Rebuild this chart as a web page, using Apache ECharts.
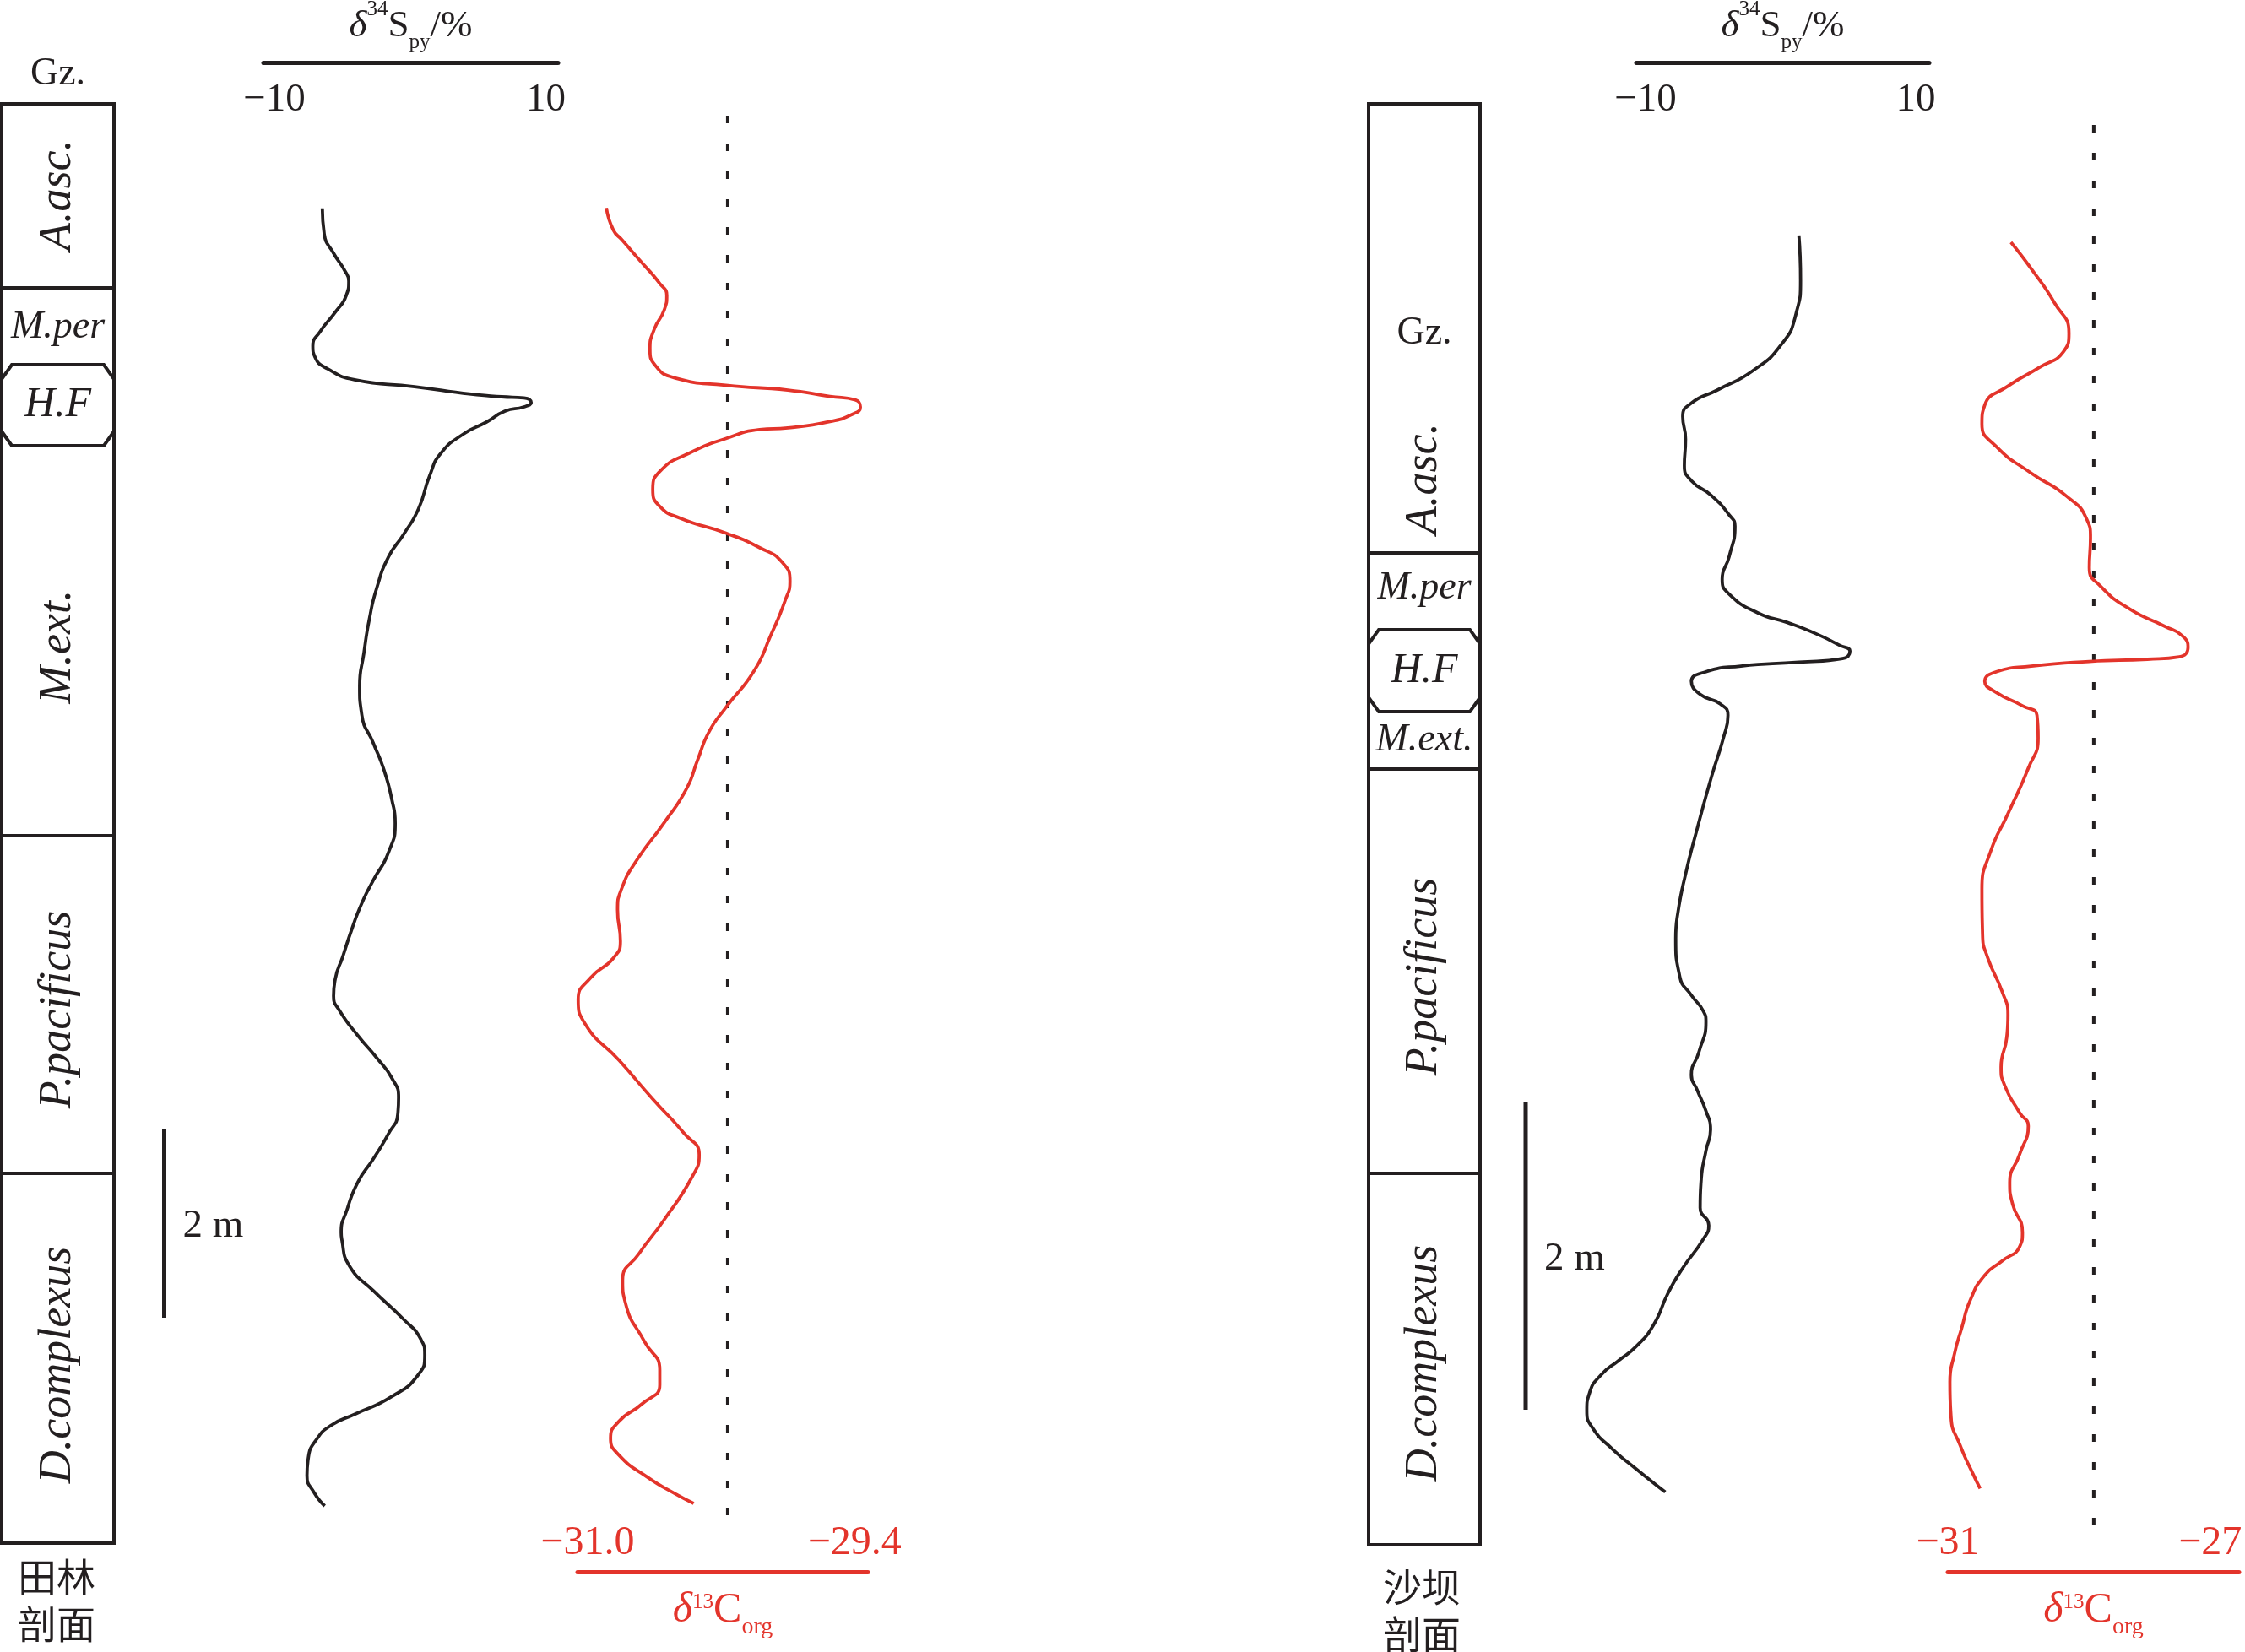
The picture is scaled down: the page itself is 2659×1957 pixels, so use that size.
<!DOCTYPE html>
<html><head><meta charset="utf-8">
<script src="https://cdn.jsdelivr.net/npm/echarts@6/dist/echarts.min.js"></script>
<style>html,body{margin:0;padding:0;background:#fff}#c{width:2659px;height:1957px}</style>
</head><body><div id="c"></div>
<script>
// ================= DATA =================
// heights in metres above the base of each section; isotope values in per mil
// ---- Tianlin section (田林剖面) ----
const tlS34 = [[-6.47,14.119],[-6.33,13.848],[-5.64,13.643],[-4.84,13.464],[-4.52,13.348],[-4.71,13.196],[-5.52,13.018],[-6.64,12.813],[-7.17,12.661],[-7.01,12.545],[-6.08,12.420],[-4.09,12.304],[0.33,12.232],[4.50,12.152],[6.74,12.125],[8.39,12.112],[8.92,12.063],[8.39,12.018],[6.99,11.973],[5.62,11.857],[3.94,11.732],[2.26,11.527],[1.45,11.295],[0.61,10.938],[-0.48,10.670],[-1.60,10.429],[-2.47,10.098],[-3.00,9.777],[-3.40,9.420],[-3.72,9.063],[-3.56,8.759],[-2.72,8.464],[-1.91,8.170],[-1.35,7.866],[-1.10,7.616],[-1.60,7.304],[-2.72,7.009],[-3.56,6.768],[-4.28,6.500],[-4.96,6.205],[-5.52,5.964],[-5.64,5.786],[-5.21,5.634],[-3.84,5.366],[-2.47,5.134],[-1.35,4.920],[-0.85,4.714],[-0.91,4.536],[-1.60,4.330],[-2.72,4.063],[-3.84,3.821],[-4.65,3.527],[-5.08,3.286],[-5.02,3.200],[-4.46,2.929],[-2.72,2.670],[-0.54,2.375],[0.77,2.161],[1.08,1.991],[0.58,1.777],[-1.41,1.545],[-4.03,1.366],[-5.77,1.250],[-6.89,1.098],[-7.51,0.893],[-7.60,0.714],[-7.08,0.536],[-6.29,0.393]];
const tlC13 = [[-30.887,14.123],[-30.845,13.887],[-30.794,13.786],[-30.693,13.580],[-30.567,13.323],[-30.525,13.196],[-30.541,13.041],[-30.601,12.836],[-30.626,12.634],[-30.592,12.452],[-30.474,12.323],[-30.171,12.246],[-29.800,12.196],[-29.548,12.129],[-29.396,12.093],[-29.365,12.016],[-29.413,11.939],[-29.548,11.863],[-29.800,11.795],[-29.969,11.777],[-30.171,11.683],[-30.390,11.529],[-30.559,11.350],[-30.609,11.145],[-30.567,10.965],[-30.440,10.838],[-30.171,10.683],[-29.969,10.529],[-29.834,10.375],[-29.787,10.170],[-29.817,9.966],[-29.901,9.607],[-30.003,9.223],[-30.171,8.839],[-30.272,8.582],[-30.340,8.286],[-30.407,7.979],[-30.541,7.620],[-30.710,7.209],[-30.794,6.929],[-30.820,6.696],[-30.803,6.366],[-30.845,6.188],[-30.980,5.982],[-31.056,5.750],[-31.014,5.491],[-30.811,5.107],[-30.609,4.696],[-30.424,4.339],[-30.331,4.107],[-30.373,3.875],[-30.541,3.420],[-30.693,3.058],[-30.790,2.780],[-30.770,2.520],[-30.660,2.134],[-30.567,1.830],[-30.567,1.674],[-30.676,1.469],[-30.811,1.289],[-30.862,1.110],[-30.811,0.930],[-30.643,0.700],[-30.474,0.521],[-30.364,0.420]];
const tlRefC13 = [[-30.16,15.098],[-30.16,0.295]];
const tlZoneBounds = [15.223, 13.277, 12.464, 11.607, 7.482, 3.911, 0];
const tlHFZone = [12.464, 11.607];
const tlLabelText = ['Gz.', 'A.asc.', 'M.per', 'H.F', 'M.ext.', 'P.pacificus', 'D.complexus'];
const tlLabelH = [15.54, 14.259, 12.857, 12.036, 9.482, 5.643, 1.884];
const tlScaleBar = [2.384, 4.384];
const tlSTicks = [-10, 10];
const tlCTicks = [-31.0, -29.4];

// ---- Shaba section (沙坝剖面) ----
const sbS34 = [[1.35,8.499],[1.475,8.209],[1.13,7.988],[0.06,7.792],[-2.09,7.619],[-4.68,7.496],[-6.61,7.411],[-7.25,7.324],[-7.04,7.177],[-7.13,7.005],[-6.61,6.907],[-5.10,6.809],[-3.81,6.685],[-3.38,6.612],[-3.81,6.415],[-4.33,6.269],[-3.81,6.171],[-1.66,6.048],[0.49,5.987],[2.64,5.913],[4.36,5.839],[5.13,5.802],[4.58,5.753],[1.35,5.729],[-2.95,5.704],[-5.53,5.667],[-6.61,5.605],[-5.96,5.520],[-4.46,5.458],[-3.90,5.385],[-4.24,5.237],[-5.10,4.992],[-6.18,4.648],[-7.04,4.353],[-7.60,4.107],[-7.77,3.935],[-7.47,3.689],[-6.61,3.567],[-5.75,3.468],[-5.53,3.395],[-6.05,3.198],[-6.61,3.050],[-6.18,2.952],[-5.53,2.816],[-5.19,2.696],[-5.53,2.558],[-5.88,2.373],[-5.96,2.188],[-5.32,2.073],[-5.75,1.981],[-7.25,1.796],[-8.33,1.635],[-9.41,1.427],[-10.69,1.288],[-11.99,1.196],[-13.28,1.104],[-14.14,0.988],[-14.35,0.873],[-13.92,0.758],[-12.42,0.619],[-10.69,0.492],[-8.54,0.342]];
const sbC13 = [[-30.038,8.455],[-29.728,8.283],[-29.374,8.062],[-29.153,7.865],[-29.242,7.742],[-29.596,7.644],[-30.083,7.521],[-30.437,7.398],[-30.480,7.276],[-30.259,7.128],[-29.728,6.956],[-29.197,6.809],[-28.887,6.661],[-28.825,6.538],[-28.843,6.342],[-28.666,6.220],[-28.223,6.073],[-27.692,5.962],[-27.427,5.901],[-27.338,5.827],[-27.471,5.764],[-27.958,5.748],[-28.843,5.734],[-29.728,5.704],[-30.259,5.667],[-30.437,5.605],[-30.259,5.532],[-29.862,5.446],[-29.641,5.385],[-29.623,5.237],[-29.773,5.041],[-30.083,4.746],[-30.348,4.500],[-30.480,4.254],[-30.470,3.959],[-30.393,3.812],[-30.172,3.591],[-30.083,3.443],[-30.101,3.296],[-30.188,3.100],[-30.127,2.976],[-29.905,2.804],[-29.773,2.718],[-29.905,2.535],[-30.056,2.350],[-30.012,2.211],[-29.862,2.027],[-29.905,1.935],[-30.172,1.842],[-30.437,1.750],[-30.658,1.588],[-30.790,1.404],[-30.897,1.242],[-30.968,1.058],[-30.950,0.827],[-30.808,0.642],[-30.614,0.458],[-30.507,0.365]];
const sbRefC13 = [[-28.775,9.216],[-28.775,0.099]];
const sbZoneBounds = [9.353, 6.438, 5.940, 5.408, 5.036, 2.411, 0];
const sbHFZone = [5.940, 5.408];
const sbLabelText = ['Gz.', 'A.asc.', 'M.per', 'H.F', 'M.ext.', 'P.pacificus', 'D.complexus'];
const sbLabelH = [7.863, 6.921, 6.208, 5.671, 5.222, 3.688, 1.178];
const sbScaleBar = [0.877, 2.877];
const sbSTicks = [-10, 10];
const sbCTicks = [-31, -27];

const sectionNames = ['田林\n剖面', '沙坝\n剖面'];
const scaleLabel = '2 m';

// ================= LAYOUT / STYLE =================
const INK = '#231f20', RED = '#e3342b', SERIF = 'Liberation Serif';
const tlLabelKind = ['plain', 'v', 'h', 'hf', 'v', 'v', 'v'];
const sbLabelKind = ['plain', 'v', 'h', 'hf', 'h', 'v', 'v'];
const kindStyle = {
  plain: {size: 46, italic: false, rot: 0},
  v: {size: 54, italic: true, rot: Math.PI / 2},
  h: {size: 46, italic: true, rot: 0},
  hf: {size: 50, italic: true, rot: 0}
};
const TOP = 74, HEIGHT = 1788;
const yRangeTL = [(1828 - 1862) / 112, (1828 - 74) / 112];
const yRangeSB = [(1830 - 1862) / 182.5, (1830 - 74) / 182.5];

function minus(s) { return String(s).replace('-', '\u2212'); }

function columnRenderer(bounds, hf, texts, heights, kinds) {
  return function (params, api) {
    const x0 = api.coord([0, 0])[0], x1 = api.coord([1, 0])[0];
    const Y = h => api.coord([0, h])[1];
    const ch = [];
    const top = Y(bounds[0]), bot = Y(bounds[bounds.length - 1]);
    ch.push({type: 'rect', shape: {x: x0, y: top, width: x1 - x0, height: bot - top},
      style: {fill: '#fff', stroke: INK, lineWidth: 4}});
    for (let i = 1; i < bounds.length - 1; i++) {
      const b = bounds[i];
      if (b === hf[0] || b === hf[1]) continue;
      ch.push({type: 'line', shape: {x1: x0, y1: Y(b), x2: x1, y2: Y(b)}, style: {stroke: INK, lineWidth: 4}});
    }
    const ht = Y(hf[0]), hb = Y(hf[1]), cx = 12, cy = 17;
    ch.push({type: 'polygon', shape: {points: [[x0, ht + cy], [x0 + cx, ht], [x1 - cx, ht], [x1, ht + cy], [x1, hb - cy], [x1 - cx, hb], [x0 + cx, hb], [x0, hb - cy]]},
      style: {fill: 'none', stroke: INK, lineWidth: 4}});
    const xc = (x0 + x1) / 2;
    texts.forEach((t, i) => {
      const k = kindStyle[kinds[i]];
      ch.push({type: 'text', x: xc, y: Y(heights[i]), rotation: k.rot,
        style: {text: t, fontSize: k.size, fontFamily: SERIF, fontStyle: k.italic ? 'italic' : 'normal',
          fill: INK, align: 'center', verticalAlign: 'middle'}});
    });
    return {type: 'group', children: ch};
  };
}
function barRenderer(params, api) {
  const p0 = api.coord([0.5, api.value(0)]), p1 = api.coord([0.5, api.value(1)]);
  return {type: 'group', children: [
    {type: 'line', shape: {x1: p0[0], y1: p0[1], x2: p1[0], y2: p1[1]}, style: {stroke: INK, lineWidth: 5}},
    {type: 'text', x: p0[0] + 22, y: (p0[1] + p1[1]) / 2 + 4,
      style: {text: scaleLabel, fontSize: 47, fontFamily: SERIF, fill: INK, align: 'left', verticalAlign: 'middle'}}
  ]};
}

const sHeaderName = '{d|δ}{sup|34}{m|S}{sub|py}{m|/%}';
const sHeaderRich = {
  d: {fontFamily: SERIF, fontStyle: 'italic', fontSize: 45, lineHeight: 70, color: INK},
  sup: {fontFamily: SERIF, fontSize: 25, lineHeight: 26, height: 31, verticalAlign: 'top', color: INK},
  m: {fontFamily: SERIF, fontSize: 45, lineHeight: 70, color: INK},
  sub: {fontFamily: SERIF, fontSize: 25, lineHeight: 26, height: 31, verticalAlign: 'bottom', color: INK}
};
const cFooterName = '{d|δ}{sup|13}{m|C}{sub|org}';
const cFooterRich = {
  d: {fontFamily: SERIF, fontStyle: 'italic', fontSize: 50, lineHeight: 60, color: RED},
  sup: {fontFamily: SERIF, fontSize: 25, lineHeight: 26, height: 40, verticalAlign: 'top', color: RED},
  m: {fontFamily: SERIF, fontSize: 50, lineHeight: 60, color: RED},
  sub: {fontFamily: SERIF, fontSize: 28, lineHeight: 26, height: 20, verticalAlign: 'bottom', color: RED}
};

const grids = [
  {left: 2, width: 133},          // 0 TL column
  {left: 312, width: 349},        // 1 TL d34S
  {left: 684, width: 344},        // 2 TL d13C
  {left: 192, width: 5},          // 3 TL scale bar
  {left: 1621, width: 132},       // 4 SB column
  {left: 1938, width: 347},       // 5 SB d34S axis
  {left: 2307, width: 345},       // 6 SB d13C
  {left: 1804.5, width: 5},       // 7 SB scale bar
  {left: 1869.04, width: 415.96}  // 8 SB d34S data (same scale, wider so the curve is not cut)
].map(g => Object.assign({top: TOP, height: HEIGHT, containLabel: false, outerBoundsMode: 'none'}, g));

function hiddenX(i, min, max) { return {type: 'value', gridIndex: i, min: min == null ? 0 : min, max: max == null ? 1 : max, show: false}; }
function sAxis(i, min, max, ticks) {
  return {type: 'value', gridIndex: i, position: 'top', min, max,
    axisLine: {show: true, onZero: false, lineStyle: {color: INK, width: 5}},
    axisTick: {show: false}, splitLine: {show: false},
    axisLabel: {inside: true, customValues: ticks, margin: 21, formatter: v => minus(v),
      fontSize: 47, fontFamily: SERIF, color: INK},
    name: sHeaderName, nameLocation: 'middle', nameGap: 8, nameTextStyle: {rich: sHeaderRich}};
}
function cAxis(i, min, max, ticks, dec) {
  return {type: 'value', gridIndex: i, position: 'bottom', min, max,
    axisLine: {show: true, onZero: false, lineStyle: {color: RED, width: 5}},
    axisTick: {show: false}, splitLine: {show: false},
    axisLabel: {inside: true, customValues: ticks, margin: 10, formatter: v => minus(v.toFixed(dec)),
      fontSize: 48, fontFamily: SERIF, color: RED},
    name: cFooterName, nameLocation: 'middle', nameGap: 16, nameTextStyle: {rich: cFooterRich}};
}
const xAxes = [
  hiddenX(0), sAxis(1, -10.81, 10.90, tlSTicks), cAxis(2, -31.06, -29.32, tlCTicks, 1), hiddenX(3),
  hiddenX(4), sAxis(5, -10.69, 11.0, sbSTicks), cAxis(6, -31.0, -26.56, sbCTicks, 0), hiddenX(7),
  hiddenX(8, -15, 11.0)
];
const yAxes = grids.map((g, i) => {
  const r = (i < 4) ? yRangeTL : yRangeSB;
  return {type: 'value', gridIndex: i, min: r[0], max: r[1], show: false};
});

function curve(i, data, color) {
  return {type: 'line', xAxisIndex: i, yAxisIndex: i, data, showSymbol: false, smooth: 0.55, clip: false,
    lineStyle: {color, width: 3.8}, silent: true, z: 3};
}
function refLine(i, data) {
  return {type: 'line', xAxisIndex: i, yAxisIndex: i, data, showSymbol: false, clip: false,
    lineStyle: {color: INK, width: 4, type: [9, 24], cap: 'butt'}, silent: true, z: 2};
}

const option = {
  animation: false,
  backgroundColor: '#fff',
  textStyle: {fontFamily: SERIF},
  grid: grids,
  xAxis: xAxes,
  yAxis: yAxes,
  graphic: [
    {type: 'text', left: 68 - 47, top: 1840, style: {text: sectionNames[0], fontSize: 46, lineHeight: 56,
      fontFamily: 'Noto Sans CJK SC', fill: INK}},
    {type: 'text', left: 1685 - 47, top: 1852, style: {text: sectionNames[1], fontSize: 46, lineHeight: 56,
      fontFamily: 'Noto Sans CJK SC', fill: INK}}
  ],
  series: [
    {type: 'custom', xAxisIndex: 0, yAxisIndex: 0, data: [[0.5, 0]], silent: true, z: 1,
      renderItem: columnRenderer(tlZoneBounds, tlHFZone, tlLabelText, tlLabelH, tlLabelKind)},
    {type: 'custom', xAxisIndex: 3, yAxisIndex: 3, data: [tlScaleBar], silent: true, renderItem: barRenderer},
    curve(1, tlS34, INK),
    refLine(2, tlRefC13),
    curve(2, tlC13, RED),
    {type: 'custom', xAxisIndex: 4, yAxisIndex: 4, data: [[0.5, 0]], silent: true, z: 1,
      renderItem: columnRenderer(sbZoneBounds, sbHFZone, sbLabelText, sbLabelH, sbLabelKind)},
    {type: 'custom', xAxisIndex: 7, yAxisIndex: 7, data: [sbScaleBar], silent: true, renderItem: barRenderer},
    curve(8, sbS34, INK),
    refLine(6, sbRefC13),
    curve(6, sbC13, RED)
  ]
};
const chart = echarts.init(document.getElementById('c'), null, {renderer: 'canvas'});
chart.setOption(option);
</script></body></html>
